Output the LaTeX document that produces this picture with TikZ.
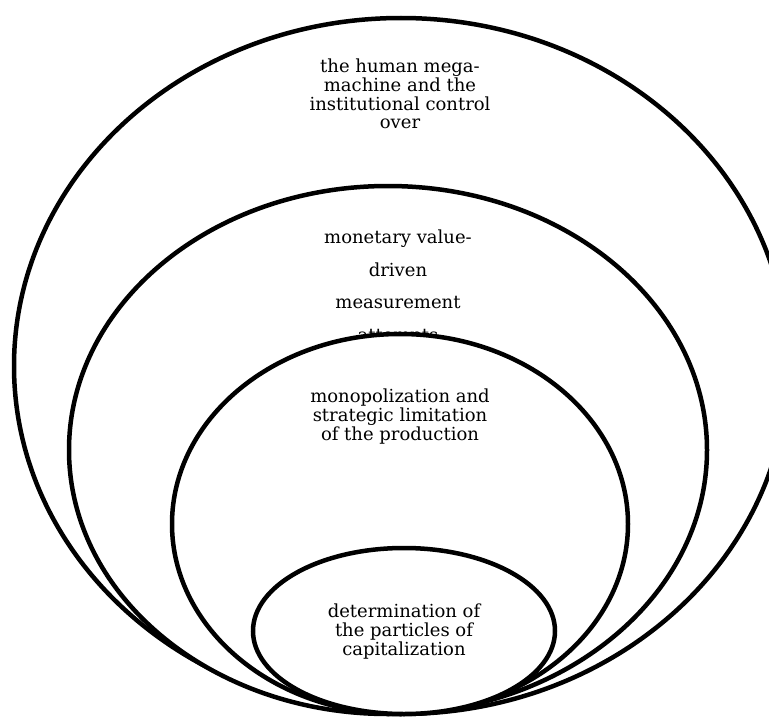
\documentclass[tikz,border=0pt]{standalone}
\usepackage{fontspec}
\setmainfont{DejaVu Serif}
\begin{document}
\begin{tikzpicture}[x=1pt,y=-1pt,
  ring/.style={draw=black,line width=4.5pt,fill=white},
  label/.style={align=center,font=\fontsize{18}{18.7}\selectfont,inner sep=0pt},
  wide/.style={align=center,font=\fontsize{18}{32.5}\selectfont,inner sep=0pt}]
\useasboundingbox (0,0) rectangle (769,717);
\begin{scope}
\clip (0,0) rectangle (769,717);
% outermost ring
\draw[ring] (401,366) ellipse [x radius=387, y radius=348];
\node[label,anchor=north] (t1) at (400,59) {the human mega-\\machine and the\\institutional control\\over};
% second ring
\draw[ring] (388,450) ellipse [x radius=319, y radius=264];
\node[wide,anchor=north] (t2) at (398,230) {monetary value-\\driven\\measurement\\attempts};
% third ring, drawn over the last line of the text above
\draw[ring] (400,524) ellipse [x radius=228, y radius=190];
\node[label,anchor=north] (t3) at (400,389) {monopolization and\\strategic limitation\\of the production};
% innermost ring
\draw[ring] (404,631) ellipse [x radius=151, y radius=83];
\node[label,anchor=north] (t4) at (404,604) {determination of\\the particles of\\capitalization};
\end{scope}
\end{tikzpicture}
\end{document}
